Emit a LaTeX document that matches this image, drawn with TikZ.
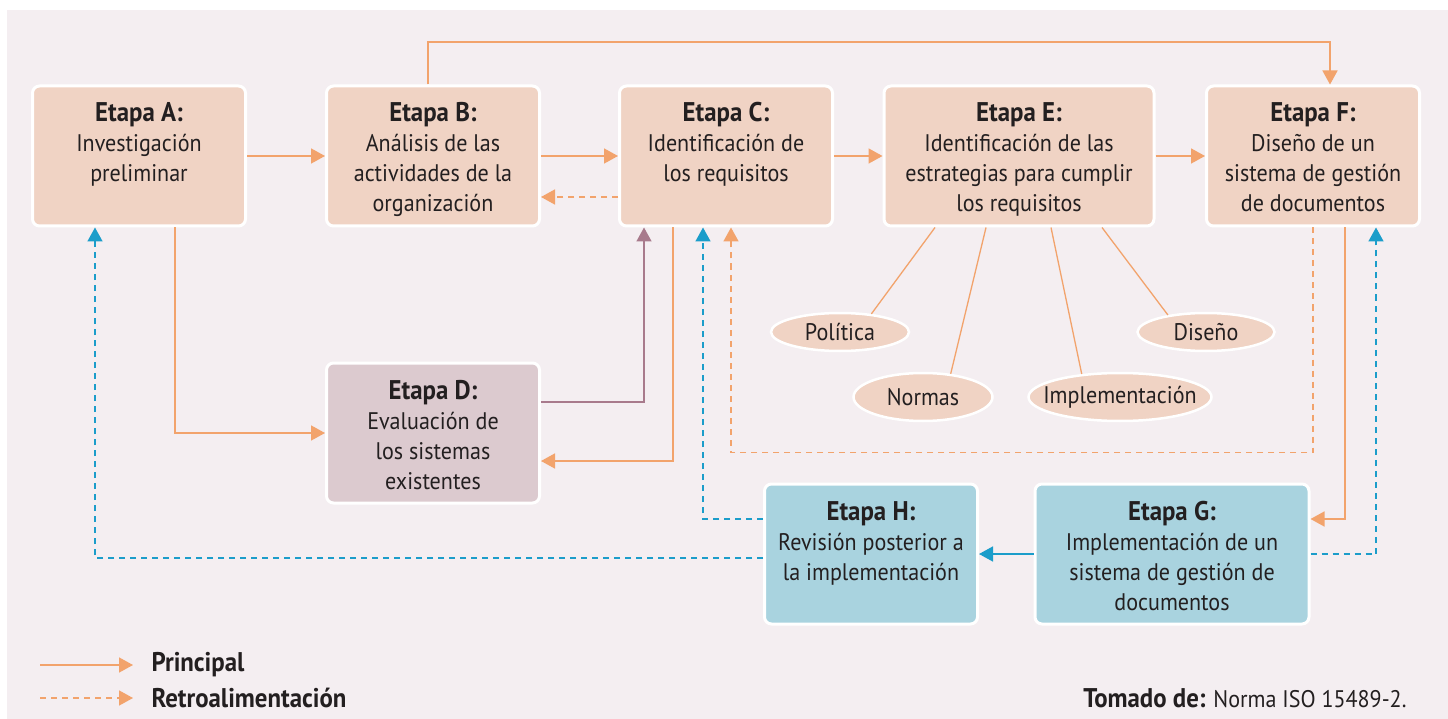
\documentclass[tikz,border=0pt]{standalone}
\usepackage{fontspec}
\setmainfont{PT Sans}[FakeStretch=0.92]
\usepackage{xcolor}
\definecolor{colBg}{HTML}{F4EEF1}
\definecolor{colPeach}{HTML}{F0D3C4}
\definecolor{colMauve}{HTML}{DCCACF}
\definecolor{colSky}{HTML}{A9D3DF}
\definecolor{colOrange}{HTML}{F2A36C}
\definecolor{colBlue}{HTML}{1B9DCA}
\definecolor{colPlum}{HTML}{A87A8C}
\definecolor{colInk}{HTML}{231F20}
\usepackage{tikz}
\usetikzlibrary{arrows.meta, positioning, calc, shapes.geometric}
\newcommand{\bigbf}{\fontsize{27}{30}\selectfont\bfseries}
\newcommand{\etapa}[1]{\rule{0pt}{31pt}{\bigbf Etapa #1:}}

\begin{document}
\begin{tikzpicture}[
				x=1pt, y=-1pt,
				every node/.style={font=\fontsize{24}{30}\selectfont, text=colInk},
				stage/.style={draw=white, line width=3pt, rounded corners=7pt, align=center,
				      minimum width=213pt, minimum height=140pt, inner sep=0pt},
				topic/.style={ellipse, draw=white, line width=2.5pt, fill=colPeach,
				      inner xsep=-12pt, inner ysep=0pt},
				flowline/.style={line width=1.6pt, colOrange, -{Triangle[length=14pt,width=15pt]}},
				backline/.style={flowline, dash pattern=on 6pt off 5pt},
				bluefwd/.style={flowline, colBlue},
				blueback/.style={bluefwd, dash pattern=on 6pt off 5pt},
				plumline/.style={flowline, colPlum},
				spoke/.style={line width=1.3pt, colOrange}
			]
				\useasboundingbox (0,0) rectangle (1448,719);
				\fill[white] (0,0) rectangle (1448,719);
				\fill[colBg] (7,10) rectangle (1448,719);
				% etapas
				\node[stage, fill=colPeach] (etA) at (139,156)
				     {\etapa{A}\\Investigación\\preliminar\\\strut};
				\node[stage, fill=colPeach] (etB) at (433,156)
				     {\etapa{B}\\Análisis de las\\actividades de la\\organización\strut};
				\node[stage, fill=colPeach] (etC) at (726,156)
				     {\etapa{C}\\Identificación de\\los requisitos\\\strut};
				\node[stage, fill=colPeach, minimum width=270pt] (etE) at (1019,156)
				     {\etapa{E}\\Identificación de las\\estrategias para cumplir\\los requisitos\strut};
				\node[stage, fill=colPeach] (etF) at (1313,156)
				     {\etapa{F}\\Diseño de un\\sistema de gestión\\de documentos\strut};
				\node[stage, fill=colMauve] (etD) at (433,433)
				     {\etapa{D}\\Evaluación de\\los sistemas\\existentes\strut};
				\node[stage, fill=colSky] (etH) at (871,554)
				     {\etapa{H}\\Revisión posterior a\\la implementación\\\strut};
				\node[stage, fill=colSky, minimum width=274pt] (etG) at (1172,554)
				     {\etapa{G}\\Implementación de un\\sistema de gestión de\\documentos\strut};
				% estrategias
				\node[topic, minimum width=138pt, minimum height=38pt] (pol) at (840,332) {Política};
				\node[topic, minimum width=139pt, minimum height=48pt] (norm) at (923,397) {Normas};
				\node[topic, minimum width=179pt, minimum height=48pt] (impl) at (1120,397) {Implementación};
				\node[topic, minimum width=137pt, minimum height=38pt] (dis) at (1206,332) {Diseño};
				\draw[spoke] ($(etE.south)+(-84,0)$) -- (pol.30);
				\draw[spoke] ($(etE.south)+(-33,0)$) -- (norm.40);
				\draw[spoke] ($(etE.south)+(32,0)$) -- (impl.149);
				\draw[spoke] ($(etE.south)+(83,0)$) -- (dis.156);
				% flujo principal
				\draw[flowline] (etA) -- (etB);
				\draw[flowline] (etB) -- (etC);
				\draw[flowline] (etC) -- (etE);
				\draw[flowline] (etE) -- (etF);
				\coordinate (loopTop) at (428,42);
				\draw[flowline] (etB.north -| loopTop) -- (loopTop) -| ($(etF.north)+(17,0)$);
				\draw[flowline] ($(etA.south)+(36,0)$) |- (etD);
				\draw[plumline] ($(etD.east)+(0,-31)$) -| ($(etC.south)+(-82,0)$);
				\draw[flowline] ($(etC.south)+(-53,0)$) |- ($(etD.east)+(0,28)$);
				\draw[flowline] ($(etF.south)+(32,0)$) |- ($(etG.east)+(0,-35)$);
				\draw[bluefwd] (etG) -- (etH);
				% retroalimentacion
				\draw[backline] ($(etC.west)+(0,41)$) -- ($(etB.east)+(0,41)$);
				\draw[backline] (etF.south) -- ++(0,225) -| ($(etC.south)+(5,0)$);
				\draw[blueback] ($(etH.west)+(0,-35)$) -| ($(etC.south)+(-23,0)$);
				\draw[blueback] (etG.east) -| ($(etF.south)+(63,0)$);
				\draw[blueback] ($(etH.west)+(0,4)$) -| ($(etA.south)+(-44,0)$);
				% leyenda
				\node[anchor=west] (legPrin) at (148,665) {\bigbf Principal};
				\node[anchor=west] (legRetro) at (148,698) {\bigbf Retroalimentación};
				\coordinate (legA) at (40,665);
				\coordinate (legB) at (40,698);
				\draw[flowline] (legA) -- (legA -| 133,0);
				\draw[backline] (legB) -- (legB -| 133,0);
				\node[anchor=east] (src) at (1410,698)
				     {{\bigbf Tomado de:} Norma ISO 15489-2.};
			\end{tikzpicture}
\end{document}
